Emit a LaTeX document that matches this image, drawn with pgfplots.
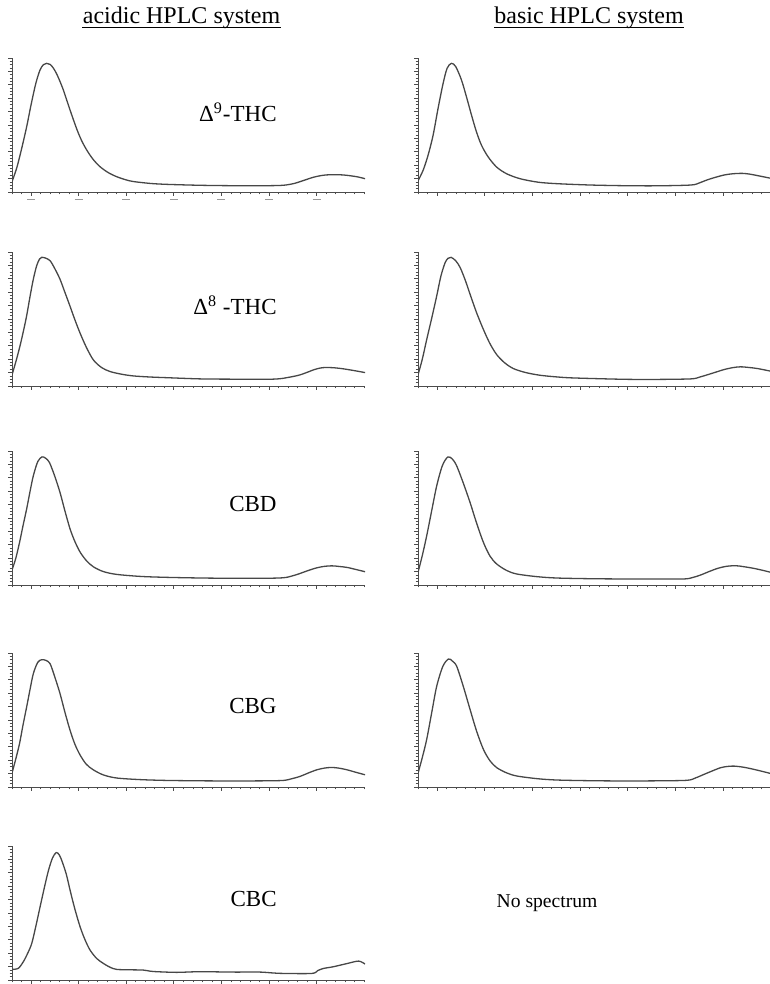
\documentclass[border=0pt]{standalone}
\usepackage{pgfplots}
\pgfplotsset{compat=1.18}
\usepackage{fontspec}
\setmainfont{Liberation Serif}

% one panel = one UV spectrum; x in minor-tick units, y as fraction of the panel height
\pgfplotsset{
  spec/.style={
    scale only axis, width=176.5pt, height=67pt, anchor=south west,
    xmin=0, xmax=37.08, ymin=0, ymax=1,
    axis x line=bottom, axis y line=left,
    axis line style={-, black!70, line width=0.45pt},
    xtick={2,7,...,32}, minor xtick={0,1,...,37},
    ytick={0,0.1,...,1}, minor ytick={0,0.025,...,1},
    xticklabels={}, yticklabels={},
    tick align=outside, tick style={black!70, line width=0.4pt},
    major tick length=1.8pt, minor tick length=1.2pt,
  },
  trace/.style={smooth, tension=0.5, no marks, line width=0.65pt, color=black!72},
}
\newcommand{\dash}{\textcolor{black!40}{\rule{4pt}{0.7pt}}}

\begin{document}
\begin{tikzpicture}
\useasboundingbox (0pt,0pt) rectangle (385pt,492pt);

% ---- headers ----
\node[anchor=base, inner sep=0pt, font=\fontsize{12}{14}\selectfont] (h1) at (90.75pt,480pt) {acidic HPLC system};
\node[anchor=base, inner sep=0pt, font=\fontsize{12}{14}\selectfont] (h2) at (294.5pt,480pt) {basic HPLC system};
\draw[line width=0.5pt] ([yshift=-1.85pt]h1.base west) -- ([yshift=-1.85pt]h1.base east);
\draw[line width=0.5pt] ([yshift=-1.85pt]h2.base west) -- ([yshift=-1.85pt]h2.base east);

% ---- row 1: delta9-THC ----
\begin{axis}[spec, at={(6pt,396pt)},
  xticklabels={\dash,\dash,\dash,\dash,\dash,\dash,\dash}, xticklabel style={inner sep=0pt, yshift=-1.2pt}]
\addplot[trace] coordinates {(0,0.077)(0.5,0.18)(1.0,0.32)(1.54,0.487)(2.0,0.65)(2.5,0.81)(2.94,0.91)(3.3,0.95)(3.64,0.96)(4.0,0.952)(4.34,0.925)(4.7,0.88)(5.04,0.825)(5.4,0.76)(5.74,0.687)(6.25,0.58)(6.8,0.47)(7.3,0.385)(7.85,0.313)(8.5,0.245)(9.24,0.189)(10.1,0.145)(11,0.114)(12,0.09)(12.75,0.078)(14.5,0.064)(16.25,0.057)(19.75,0.05)(23.2,0.047)(26.75,0.047)(28.2,0.049)(28.85,0.053)(29.6,0.063)(30.25,0.077)(31,0.095)(31.65,0.11)(32.5,0.123)(33.4,0.129)(34.8,0.127)(36.2,0.114)(37.08,0.099)};
\end{axis}
\begin{axis}[spec, at={(209pt,396pt)}, xmax=37.0]
\addplot[trace] coordinates {(0,0.083)(0.53,0.161)(1.05,0.273)(1.58,0.423)(2.1,0.623)(2.63,0.81)(3.05,0.923)(3.5,0.96)(3.96,0.935)(4.56,0.835)(5.08,0.71)(5.61,0.573)(6.13,0.448)(6.66,0.348)(7.36,0.261)(8.24,0.186)(9.29,0.136)(10.7,0.099)(12.6,0.073)(14.57,0.062)(18.07,0.052)(21.57,0.047)(25,0.046)(28.6,0.052)(29.5,0.068)(30.3,0.09)(31.2,0.11)(32.1,0.127)(33,0.136)(34.0,0.139)(34.8,0.133)(35.6,0.122)(36.3,0.112)(37.0,0.102)};
\end{axis}

% ---- row 2: delta8-THC ----
\begin{axis}[spec, at={(6pt,299pt)}]
\addplot[trace] coordinates {(0,0.083)(0.4,0.18)(0.83,0.296)(1.2,0.41)(1.53,0.521)(1.9,0.67)(2.24,0.797)(2.6,0.9)(2.9,0.948)(3.12,0.96)(3.5,0.955)(4.0,0.935)(4.5,0.875)(5.04,0.797)(5.55,0.7)(6.09,0.596)(6.6,0.495)(7.14,0.396)(7.8,0.29)(8.54,0.195)(9.4,0.138)(10.29,0.108)(11.5,0.088)(12.75,0.075)(14.5,0.067)(16.25,0.062)(19.75,0.053)(23,0.051)(26.75,0.05)(28.1,0.054)(28.85,0.062)(29.6,0.072)(30.25,0.083)(31,0.102)(31.65,0.12)(32.3,0.133)(32.88,0.138)(33.8,0.136)(34.8,0.128)(36,0.114)(37.08,0.1)};
\end{axis}
\begin{axis}[spec, at={(209pt,299pt)}, xmax=37.0]
\addplot[trace] coordinates {(0,0.083)(0.45,0.2)(0.91,0.346)(1.45,0.51)(1.96,0.672)(2.4,0.82)(2.84,0.92)(3.15,0.953)(3.47,0.96)(3.95,0.935)(4.41,0.885)(4.95,0.79)(5.46,0.684)(6.15,0.545)(6.86,0.421)(7.55,0.315)(8.26,0.233)(9.1,0.172)(10.0,0.13)(11.3,0.1)(12.8,0.08)(14.5,0.068)(16.3,0.06)(21.57,0.05)(25,0.049)(28.6,0.053)(29.5,0.066)(30.3,0.083)(31.2,0.103)(32.1,0.123)(33,0.137)(33.8,0.143)(34.7,0.138)(35.6,0.13)(37.0,0.11)};
\end{axis}

% ---- row 3: CBD ----
\begin{axis}[spec, at={(6pt,199.5pt)}]
\addplot[trace] coordinates {(0,0.111)(0.4,0.2)(0.8,0.32)(1.15,0.44)(1.54,0.568)(1.9,0.7)(2.24,0.815)(2.7,0.92)(3.15,0.956)(3.55,0.945)(3.94,0.913)(4.5,0.81)(5.04,0.691)(5.55,0.555)(6.09,0.42)(6.6,0.325)(7.14,0.247)(7.8,0.183)(8.54,0.136)(9.6,0.1)(11.0,0.079)(13.5,0.064)(16.25,0.057)(20,0.052)(23.25,0.05)(26.5,0.05)(28.5,0.054)(29.4,0.067)(30.25,0.086)(31.1,0.108)(32.0,0.128)(32.8,0.139)(33.6,0.143)(34.4,0.138)(35.2,0.131)(36.1,0.116)(37.08,0.099)};
\end{axis}
\begin{axis}[spec, at={(209pt,199.5pt)}, xmax=37.0]
\addplot[trace] coordinates {(0,0.094)(0.45,0.22)(0.91,0.367)(1.45,0.56)(1.96,0.74)(2.55,0.89)(3.12,0.955)(3.6,0.94)(4.06,0.888)(4.75,0.76)(5.46,0.615)(6.15,0.46)(6.86,0.317)(7.55,0.215)(8.26,0.156)(9.3,0.108)(10.36,0.082)(12.5,0.062)(14.57,0.052)(18,0.047)(21.57,0.045)(25,0.045)(27.9,0.045)(28.8,0.056)(29.6,0.074)(30.5,0.1)(31.4,0.124)(32.3,0.139)(33.3,0.144)(34.2,0.136)(35.2,0.124)(36.1,0.11)(37.0,0.094)};
\end{axis}

% ---- row 4: CBG ----
\begin{axis}[spec, at={(6pt,98.5pt)}]
\addplot[trace] coordinates {(0,0.104)(0.4,0.21)(0.8,0.327)(1.15,0.46)(1.54,0.598)(1.9,0.73)(2.24,0.846)(2.7,0.93)(3.12,0.95)(3.55,0.945)(4.0,0.92)(4.5,0.82)(5.04,0.698)(5.55,0.56)(6.09,0.425)(6.6,0.32)(7.14,0.24)(7.8,0.17)(8.54,0.128)(9.6,0.09)(11.0,0.067)(13.5,0.055)(16.25,0.049)(20,0.046)(23.25,0.045)(26.5,0.046)(28.5,0.049)(29.4,0.062)(30.25,0.079)(31.1,0.104)(32.0,0.128)(32.8,0.141)(33.6,0.146)(34.4,0.14)(35.2,0.128)(36.1,0.11)(37.08,0.091)};
\end{axis}
\begin{axis}[spec, at={(209pt,98.5pt)}, xmax=37.0]
\addplot[trace] coordinates {(0,0.102)(0.45,0.22)(0.91,0.355)(1.45,0.56)(1.96,0.752)(2.6,0.9)(3.19,0.955)(3.6,0.94)(4.06,0.9)(4.75,0.75)(5.46,0.578)(6.15,0.415)(6.86,0.28)(7.55,0.195)(8.26,0.144)(9.3,0.105)(10.36,0.082)(12.5,0.062)(14.57,0.052)(18,0.047)(21.57,0.045)(25,0.046)(28.2,0.05)(29.1,0.068)(29.97,0.094)(30.85,0.12)(31.72,0.144)(32.4,0.153)(33.1,0.156)(34,0.149)(34.87,0.137)(36,0.118)(37.0,0.1)};
\end{axis}

% ---- row 5: CBC (acidic only) ----
\begin{axis}[spec, at={(6pt,2pt)}]
\addplot[trace] coordinates {(0,0.079)(0.66,0.087)(1.19,0.136)(1.65,0.2)(2.07,0.272)(2.5,0.4)(2.94,0.543)(3.4,0.69)(3.82,0.815)(4.25,0.91)(4.64,0.951)(4.95,0.935)(5.24,0.889)(5.7,0.79)(6.11,0.667)(6.6,0.53)(7.16,0.395)(7.7,0.295)(8.21,0.222)(8.9,0.16)(9.61,0.123)(10.3,0.095)(11.0,0.079)(12.5,0.076)(13.8,0.074)(14.5,0.066)(15.2,0.062)(17.3,0.057)(19.75,0.062)(23.2,0.059)(26.05,0.059)(27.3,0.053)(28.5,0.049)(31.5,0.049)(32.1,0.07)(32.7,0.086)(33.75,0.099)(35.2,0.123)(36.4,0.141)(37.08,0.119)};
\end{axis}

% ---- compound labels ----
\begin{scope}[every node/.style={inner sep=0pt, font=\fontsize{11.5}{13}\selectfont}]
\node[anchor=base east] at (138.5pt,431pt) {Δ\textsuperscript{9}-THC};
\node[anchor=base east] at (138.5pt,334.5pt) {Δ\textsuperscript{8} -THC};
\node[anchor=base east] at (138.5pt,236pt) {CBD};
\node[anchor=base east] at (138.5pt,135pt) {CBG};
\node[anchor=base east] at (138.5pt,38.5pt) {CBC};
\node[anchor=base, font=\fontsize{9.8}{11}\selectfont] at (273.5pt,38.25pt) {No spectrum};
\end{scope}
\end{tikzpicture}
\end{document}
